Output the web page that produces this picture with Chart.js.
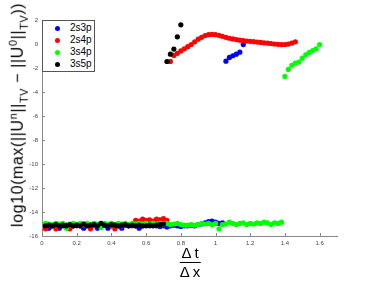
<!DOCTYPE html>
<html>
<head>
<meta charset="utf-8">
<script src="https://cdn.jsdelivr.net/npm/chart.js@4"></script>
<style>
  body { margin: 0; background: #fff; }
  #wrap { position: relative; width: 374px; height: 281px; font-family: "Liberation Sans", Arial, sans-serif; }
  #yTitle {
    position: absolute; left: 18px; top: 115px;
    transform: translate(-50%, -50%) rotate(-90deg);
    white-space: nowrap; font-size: 16px; letter-spacing: 0.6px; color: #000;
  }
  #yTitle sup, #yTitle sub { font-size: 11px; }
  #xTitle {
    position: absolute; left: 190px; top: 244px; transform: translateX(-50%);
    font-size: 15px; text-align: center; line-height: 17px;
  }
  #xTitle .num { border-bottom: 1px solid #000; padding: 0 1px 1px; }
  #legend {
    position: absolute; left: 42px; top: 20px; width: 53px; height: 52px;
    border: 1px solid #555; background: #fff; box-sizing: border-box;
    font-size: 10px; padding-top: 1px;
  }
  #legend div { height: 12px; line-height: 12px; position: relative; padding-left: 27px; }
  #legend span { position: absolute; left: 12px; top: 4px; width: 5px; height: 5px; border-radius: 50%; }
</style>
</head>
<body>
<div id="wrap">
  <canvas id="chart" width="374" height="281"></canvas>
  <div id="yTitle">log10(max(||U<sup>n</sup>||<sub>TV</sub> &minus; ||U<sup>0</sup>||<sub>TV</sub>))</div>
  <div id="xTitle"><div class="num">&Delta;&thinsp;t</div><div>&Delta;&thinsp;x</div></div>
  <div id="legend"></div>
</div>
<script>
/* ===== DATA ===== */

const seriesNames = ["2s3p", "2s4p", "3s4p", "3s5p"];
const seriesColors = ["#0000ff", "#ff0000", "#00ff00", "#000000"];

const xTicks = [0, 0.2, 0.4, 0.6, 0.8, 1, 1.2, 1.4, 1.6];
const yTicks = [-16, -14, -12, -10, -8, -6, -4, -2, 0, 2];

// dt/dx grid of the stable runs
const lowX = [
0.02,0.04,0.06,0.08,0.10,0.12,0.14,0.16,0.18,0.20,
0.22,0.24,0.26,0.28,0.30,0.32,0.34,0.36,0.38,0.40,
0.42,0.44,0.46,0.48,0.50,0.52,0.54,0.56,0.58,0.60,
0.62,0.64,0.66,0.68,0.70,0.72,0.74,0.76,0.78,0.80,
0.82,0.84,0.86,0.88,0.90,0.92,0.94,0.96,0.98,1.00,
1.02,1.04,1.06,1.08,1.10,1.12,1.14,1.16,1.18,1.20,
1.22,1.24,1.26,1.28,1.30,1.32,1.34,1.36,1.38
];

// 2s3p
const blueLowY = [
-15.15,-15.35,-15.15,-15.05,-15.35,-15.15,-15.1,-15.35,-15.15,-15.05,
-15.15,-15.35,-15.1,-15.15,-15.05,-15.35,-15.15,-15.1,-15.35,-15.15,
-15.05,-15.15,-15.35,-15.1,-15.15,-15.05,-15.15,-15.35,-15.15,-15.1,
-15.15,-15.05,-15.15,-15.2,-15.15,-15.25,-15.15,-15.1,-15.15,-15.2,
-15.15,-15.15,-15.1,-15.15,-15.05,-15.0,-14.9,-14.8,-14.75,-14.85,
-14.95,-14.9
];
const blueUpX = [1.06, 1.08, 1.10, 1.12, 1.14, 1.16];
const blueUpY = [-1.43, -1.12, -0.98, -0.85, -0.68, -0.05];

// 2s4p
const redLowY = [
-15.4,-15.15,-15.1,-15.4,-15.15,-15.05,-15.15,-15.4,-15.1,-15.15,
-15.05,-15.1,-15.15,-15.4,-15.15,-15.05,-15.15,-15.1,-15.05,-15.15,
-15.4,-15.1,-15.15,-15.05,-15.1,-15.15,-14.7,-14.75,-14.6,-14.7,
-14.65,-14.75,-14.6,-14.65,-14.55,-14.7
];
const redUpX = [
0.74,0.76,0.78,0.80,0.82,0.84,0.86,0.88,0.90,0.92,
0.94,0.96,0.98,1.00,1.02,1.04,1.06,1.08,1.10,1.12,
1.14,1.16,1.18,1.20,1.22,1.24,1.26,1.28,1.30,1.32,
1.34,1.36,1.38,1.40,1.42,1.44,1.46
];
const redUpY = [
-1.45,-0.95,-0.78,-0.58,-0.4,-0.22,-0.04,0.18,0.4,0.56,
0.7,0.78,0.8,0.78,0.72,0.64,0.56,0.48,0.42,0.37,
0.32,0.28,0.25,0.22,0.19,0.16,0.13,0.1,0.07,0.04,
0.0,-0.03,-0.05,-0.04,0.0,0.08,0.18
];

// 3s4p
const greenLowY = [
-14.95,-15.0,-15.05,-14.95,-15.0,-14.95,-15.35,-15.0,-14.95,-15.05,
-14.95,-15.0,-14.95,-15.05,-14.95,-15.0,-15.3,-14.95,-15.0,-14.95,
-15.05,-14.95,-15.0,-14.95,-15.05,-14.95,-15.0,-14.95,-15.05,-14.95,
-15.0,-14.95,-15.05,-14.95,-15.0,-14.95,-15.05,-15.0,-14.95,-15.05,
-15.1,-15.1,-15.05,-15.1,-15.05,-14.95,-15.0,-14.95,-15.05,-14.95,
-15.4,-15.05,-15.0,-14.85,-14.95,-15.05,-14.95,-14.9,-15.05,-14.95,
-15.0,-14.9,-14.95,-14.85,-14.9,-15.05,-14.9,-14.95,-14.85
];
const greenUpX = [1.40,1.42,1.44,1.46,1.48,1.50,1.52,1.54,1.56,1.58,1.60];
const greenUpY = [-2.7,-2.12,-1.78,-1.6,-1.5,-1.18,-0.9,-0.7,-0.55,-0.4,-0.05];

// 3s5p
const blackLowY = [
-15.15,-15.1,-15.15,-15.05,-15.15,-15.1,-15.15,-15.05,-15.15,-15.1,
-15.15,-15.0,-15.15,-15.1,-15.05,-15.15,-14.95,-15.1,-15.15,-15.05,
-15.1,-15.15,-15.1,-15.05,-15.15,-15.1,-15.15,-15.1,-15.15,-15.15,
-15.1,-15.15,-15.1,-15.05,-15.0
];
const blackUpX = [0.72, 0.74, 0.76, 0.78, 0.80];
const blackUpY = [-1.46, -0.85, -0.42, 0.6, 1.6];


/* ===== BUILD POINTS ===== */

function points(lowY, upX, upY){
    const pts = lowY.map((y, i) => ({ x: lowX[i], y: y }));
    upX.forEach((x, i) => pts.push({ x: x, y: upY[i] }));
    return pts;
}

const seriesData = [
    points(blueLowY, blueUpX, blueUpY),
    points(redLowY, redUpX, redUpY),
    points(greenLowY, greenUpX, greenUpY),
    points(blackLowY, blackUpX, blackUpY)
];


/* ===== LEGEND ===== */

const legendEl = document.getElementById("legend");
seriesNames.forEach((name, i) => {
    const row = document.createElement("div");
    row.innerHTML = '<span style="background:' + seriesColors[i] + '"></span>' + name;
    legendEl.appendChild(row);
});


/* ===== INWARD TICKS ===== */

const inwardTicks = {
    id: "inwardTicks",
    afterDatasetsDraw(chart){
        const ctx = chart.ctx;
        const xs = chart.scales.x, ys = chart.scales.y;
        const a = chart.chartArea;
        ctx.save();
        ctx.strokeStyle = "#888";
        ctx.lineWidth = 1;
        ctx.beginPath();
        xTicks.forEach(v => {
            const px = Math.round(xs.getPixelForValue(v)) + 0.5;
            ctx.moveTo(px, a.bottom);
            ctx.lineTo(px, a.bottom - 3);
        });
        yTicks.forEach(v => {
            const py = Math.round(ys.getPixelForValue(v)) + 0.5;
            ctx.moveTo(a.left, py);
            ctx.lineTo(a.left + 3, py);
        });
        ctx.stroke();
        ctx.restore();
    }
};


/* ===== CHART ===== */

new Chart(document.getElementById("chart"), {
    type: "scatter",
    data: {
        datasets: seriesNames.map((name, i) => ({
            label: name,
            data: seriesData[i],
            backgroundColor: seriesColors[i],
            borderWidth: 0,
            pointRadius: 2.6,
            order: 4 - i
        }))
    },
    options: {
        responsive: false,
        animation: false,
        layout: { padding: { left: 0, right: 37, top: 20, bottom: 0 } },
        plugins: { legend: { display: false }, tooltip: { enabled: false } },
        scales: {
            x: {
                type: "linear",
                min: 0, max: 1.7,
                afterBuildTicks: s => { s.ticks = xTicks.map(v => ({ value: v })); },
                afterFit: s => { s.height = 45; },
                grid: { drawOnChartArea: false, drawTicks: false },
                border: { color: "#888" },
                ticks: {
                    padding: 4,
                    color: "#444",
                    font: { size: 6, family: "Liberation Sans" },
                    maxRotation: 0,
                    callback: v => String(+v.toFixed(1))
                }
            },
            y: {
                type: "linear",
                min: -16, max: 2,
                afterBuildTicks: s => { s.ticks = yTicks.map(v => ({ value: v })); },
                afterFit: s => { s.width = 42; },
                grid: { drawOnChartArea: false, drawTicks: false },
                border: { color: "#888" },
                ticks: {
                    padding: 4,
                    color: "#444",
                    font: { size: 6, family: "Liberation Sans" },
                    callback: v => String(v)
                }
            }
        }
    },
    plugins: [inwardTicks]
});
</script>
</body>
</html>
